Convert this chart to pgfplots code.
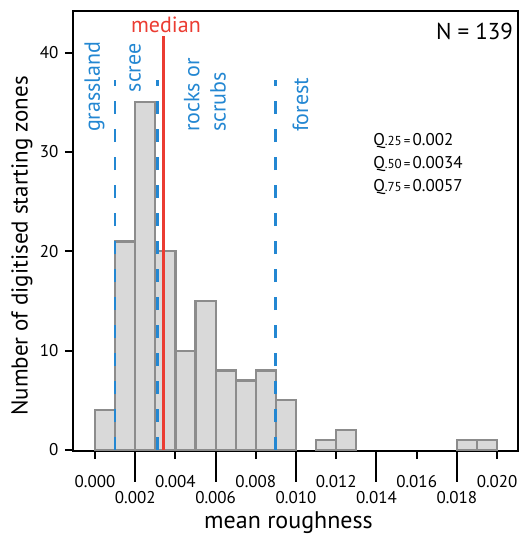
\documentclass[border=0pt]{standalone}
\usepackage{fontspec}
\setmainfont{PT Sans}
\usepackage{pgfplots}
\pgfplotsset{compat=1.18}
\definecolor{barfill}{RGB}{217,217,217}
\definecolor{baredge}{RGB}{140,140,140}
\definecolor{zoneblue}{RGB}{35,135,210}
\definecolor{medred}{RGB}{235,60,50}
\begin{document}
\begin{tikzpicture}
\begin{axis}[
  name=ax,
  scale only axis,
  width=445pt, height=440pt,
  xmin=-0.001094, xmax=0.02104,
  ymin=-0.1, ymax=44.2,
  axis line style={line width=2pt, black},
  every tick/.style={line width=2pt, black},
  tick align=outside,
  xtick pos=bottom, ytick pos=left,
  ytick={0,10,20,30,40},
  xtick={0,0.004,0.008,0.012,0.016,0.020},
  xticklabels={0.000,0.004,0.008,0.012,0.016,0.020},
  extra x ticks={0.002,0.006,0.010,0.014,0.018},
  extra x tick labels={0.002,0.006,0.010,0.014,0.018},
  major tick length=8pt,
  extra x tick style={major tick length=31pt, xticklabel style={yshift=7pt}},
  scaled x ticks=false,
  tick label style={font=\fontsize{17}{20}\selectfont, /pgf/number format/assume math mode=true},
  xticklabel style={anchor=north, yshift=-13pt},
  yticklabel style={xshift=-3pt},
  clip=false,
]
% histogram bars
\addplot[ybar interval, fill=barfill, draw=baredge, line width=2.2pt, forget plot] coordinates {
  (0.000,4) (0.001,21) (0.002,35) (0.003,20) (0.004,10) (0.005,15)
  (0.006,8) (0.007,7) (0.008,8) (0.009,5) (0.010,5)
};
\addplot[ybar interval, fill=barfill, draw=baredge, line width=2.2pt, forget plot] coordinates {
  (0.011,1) (0.012,2) (0.013,2)
};
\addplot[ybar interval, fill=barfill, draw=baredge, line width=2.2pt, forget plot] coordinates {
  (0.018,1) (0.019,1) (0.020,1)
};
% zone boundaries
\addplot[ycomb, no marks, draw=zoneblue, line width=2.6pt, dash pattern=on 13pt off 15pt] coordinates {
  (0.001,37.3) (0.0031,37.3) (0.00897,37.3)
};
% median
\addplot[ycomb, no marks, draw=medred, solid, line width=2.6pt] coordinates {(0.0034,41.7)};

\tikzset{zlab/.style={zoneblue, rotate=90, anchor=west, inner sep=0pt, font=\fontsize{22}{26}\selectfont}}
\node[medred, font=\fontsize{22}{26}\selectfont] at (axis cs:0.00353,42.8) {median};
\node[zlab] at (axis cs:-0.00003,32.0) {grassland};
\node[zlab] at (axis cs:0.00199,36.0) {scree};
\node[zlab] at (axis cs:0.00481,32.0) {rocks or};
\node[zlab] at (axis cs:0.00612,32.0) {scrubs};
\node[zlab] at (axis cs:0.01022,32.0) {forest};
\node[anchor=east, inner sep=0pt, font=\fontsize{23}{27}\selectfont] at (axis cs:0.02080,42.1) {N = 139};
\node[anchor=west, inner sep=0pt, font=\fontsize{17}{20}\selectfont] at (axis cs:0.01383,31.1) {Q{\fontsize{13}{15}\selectfont.25\,=\,}0.002};
\node[anchor=west, inner sep=0pt, font=\fontsize{17}{20}\selectfont] at (axis cs:0.01383,28.8) {Q{\fontsize{13}{15}\selectfont.50\,=\,}0.0034};
\node[anchor=west, inner sep=0pt, font=\fontsize{17}{20}\selectfont] at (axis cs:0.01383,26.5) {Q{\fontsize{13}{15}\selectfont.75\,=\,}0.0057};
\end{axis}
\path (ax.west) ++(-51pt,-15pt) node[rotate=90, font=\fontsize{23}{27}\selectfont] {Number of digitised starting zones};
\path (ax.south) ++(-7pt,-72pt) node[font=\fontsize{24}{28}\selectfont] {mean roughness};
\pgfresetboundingbox
\path (ax.south west) ++(-73pt,-83pt) coordinate (bl);
\path (ax.north east) ++(8pt,11pt) coordinate (tr);
\useasboundingbox (bl) rectangle (tr);
\end{tikzpicture}
\end{document}
